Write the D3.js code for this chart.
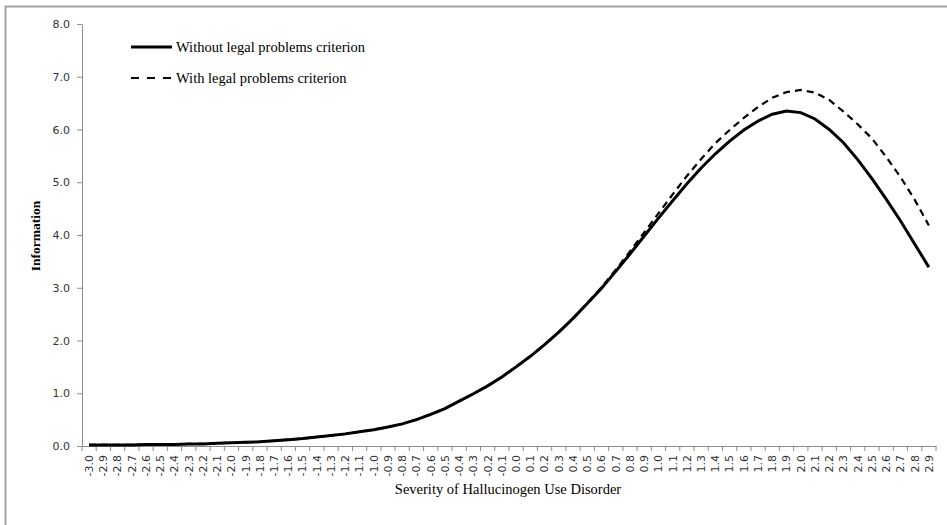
<!DOCTYPE html>
<html><head><meta charset="utf-8">
<script src="https://cdn.jsdelivr.net/npm/d3@7"></script>
<style>body{margin:0;background:#fff;}svg{display:block;}</style>
</head><body>
<svg id="c" width="947" height="525"></svg>
<script>
const categories = ["-3.0","-2.9","-2.8","-2.7","-2.6","-2.5","-2.4","-2.3","-2.2","-2.1","-2.0","-1.9","-1.8","-1.7","-1.6","-1.5","-1.4","-1.3","-1.2","-1.1","-1.0","-0.9","-0.8","-0.7","-0.6","-0.5","-0.4","-0.3","-0.2","-0.1","0.0","0.1","0.2","0.3","0.4","0.5","0.6","0.7","0.8","0.9","1.0","1.1","1.2","1.3","1.4","1.5","1.6","1.7","1.8","1.9","2.0","2.1","2.2","2.3","2.4","2.5","2.6","2.7","2.8","2.9"];
const withoutLegal = [0.02,0.02,0.02,0.02,0.03,0.03,0.03,0.04,0.04,0.05,0.06,0.07,0.08,0.10,0.12,0.14,0.17,0.20,0.23,0.27,0.31,0.36,0.42,0.50,0.60,0.71,0.85,0.99,1.14,1.31,1.50,1.70,1.92,2.16,2.42,2.70,2.99,3.31,3.64,3.98,4.32,4.65,4.97,5.27,5.54,5.78,5.99,6.16,6.29,6.35,6.32,6.20,6.00,5.75,5.43,5.07,4.68,4.27,3.83,3.39];
const withLegal = [0.02,0.02,0.02,0.02,0.03,0.03,0.03,0.04,0.04,0.05,0.06,0.07,0.08,0.10,0.12,0.14,0.17,0.20,0.23,0.27,0.31,0.36,0.42,0.50,0.60,0.71,0.85,0.99,1.14,1.31,1.50,1.70,1.92,2.16,2.42,2.71,3.01,3.34,3.69,4.05,4.41,4.77,5.12,5.44,5.74,5.99,6.22,6.43,6.60,6.71,6.75,6.70,6.56,6.34,6.10,5.83,5.48,5.10,4.67,4.18];
const yTicks = [0,1,2,3,4,5,6,7,8];
const seriesNames = ["Without legal problems criterion","With legal problems criterion"];

const svg = d3.select("#c");
svg.append("rect").attr("x",5.5).attr("y",6.5).attr("width",960).attr("height",540)
  .attr("fill","none").attr("stroke","#a0a0a0").attr("stroke-width",2);

const L=82, R=936, T=24, B=446;
const x = d3.scaleBand().domain(categories).range([L,R]).padding(0);
const y = d3.scaleLinear().domain([0,8]).range([B,T]);
const cx = d => x(d)+x.bandwidth()/2;

// y axis
const ya = svg.append("g").attr("transform",`translate(${L},0)`)
  .call(d3.axisLeft(y).tickValues(yTicks).tickFormat(d3.format(".1f")).tickSize(5).tickSizeOuter(0));
ya.select(".domain").attr("stroke","#8c8c8c");
ya.selectAll(".tick line").attr("stroke","#8c8c8c");
ya.selectAll("text").attr("font-family","Verdana, 'DejaVu Sans', sans-serif").attr("font-size",11).attr("fill","#333").attr("dx",-4);

// x axis
const xa = svg.append("g").attr("transform",`translate(0,${B})`)
  .call(d3.axisBottom(x).tickSize(0).tickSizeOuter(0));
xa.select(".domain").attr("stroke","#8c8c8c");
xa.selectAll(".tick line").remove();
xa.selectAll(".tick text")
  .attr("font-family","Verdana, 'DejaVu Sans', sans-serif").attr("font-size",11).attr("fill","#333")
  .attr("transform","rotate(-90)").attr("text-anchor","end").attr("x",-9).attr("y",0).attr("dy","0.35em");
// tick marks between categories
const bounds = categories.map(c=>x(c)).concat([R]);
svg.append("g").selectAll("line").data(bounds).join("line")
  .attr("x1",d=>d).attr("x2",d=>d).attr("y1",B).attr("y2",B+5).attr("stroke","#8c8c8c");

// lines
const line = d3.line().x((d,i)=>cx(categories[i])).y(d=>y(d));
svg.append("path").datum(withLegal).attr("d",line).attr("fill","none")
  .attr("stroke","#000").attr("stroke-width",2.2).attr("stroke-dasharray","7,5");
svg.append("path").datum(withoutLegal).attr("d",line).attr("fill","none")
  .attr("stroke","#000").attr("stroke-width",3);

// legend
const lg = svg.append("g").attr("font-family","'Liberation Serif','Times New Roman',serif").attr("font-size",14.5).attr("fill","#000");
lg.append("line").attr("x1",131).attr("x2",172).attr("y1",47).attr("y2",47).attr("stroke","#000").attr("stroke-width",3);
lg.append("line").attr("x1",131).attr("x2",172).attr("y1",78).attr("y2",78).attr("stroke","#000").attr("stroke-width",2.2).attr("stroke-dasharray","8,8");
lg.append("text").attr("x",176).attr("y",52).text(seriesNames[0]);
lg.append("text").attr("x",176).attr("y",83).text(seriesNames[1]);

// axis titles
svg.append("text").attr("transform","translate(40,236) rotate(-90)").attr("text-anchor","middle")
  .attr("font-family","'Liberation Serif','Times New Roman',serif").attr("font-size",13.5).attr("font-weight","bold").text("Information");
svg.append("text").attr("x",508).attr("y",494).attr("text-anchor","middle")
  .attr("font-family","'Liberation Serif','Times New Roman',serif").attr("font-size",14.5).text("Severity of Hallucinogen Use Disorder");
</script>
</body></html>
